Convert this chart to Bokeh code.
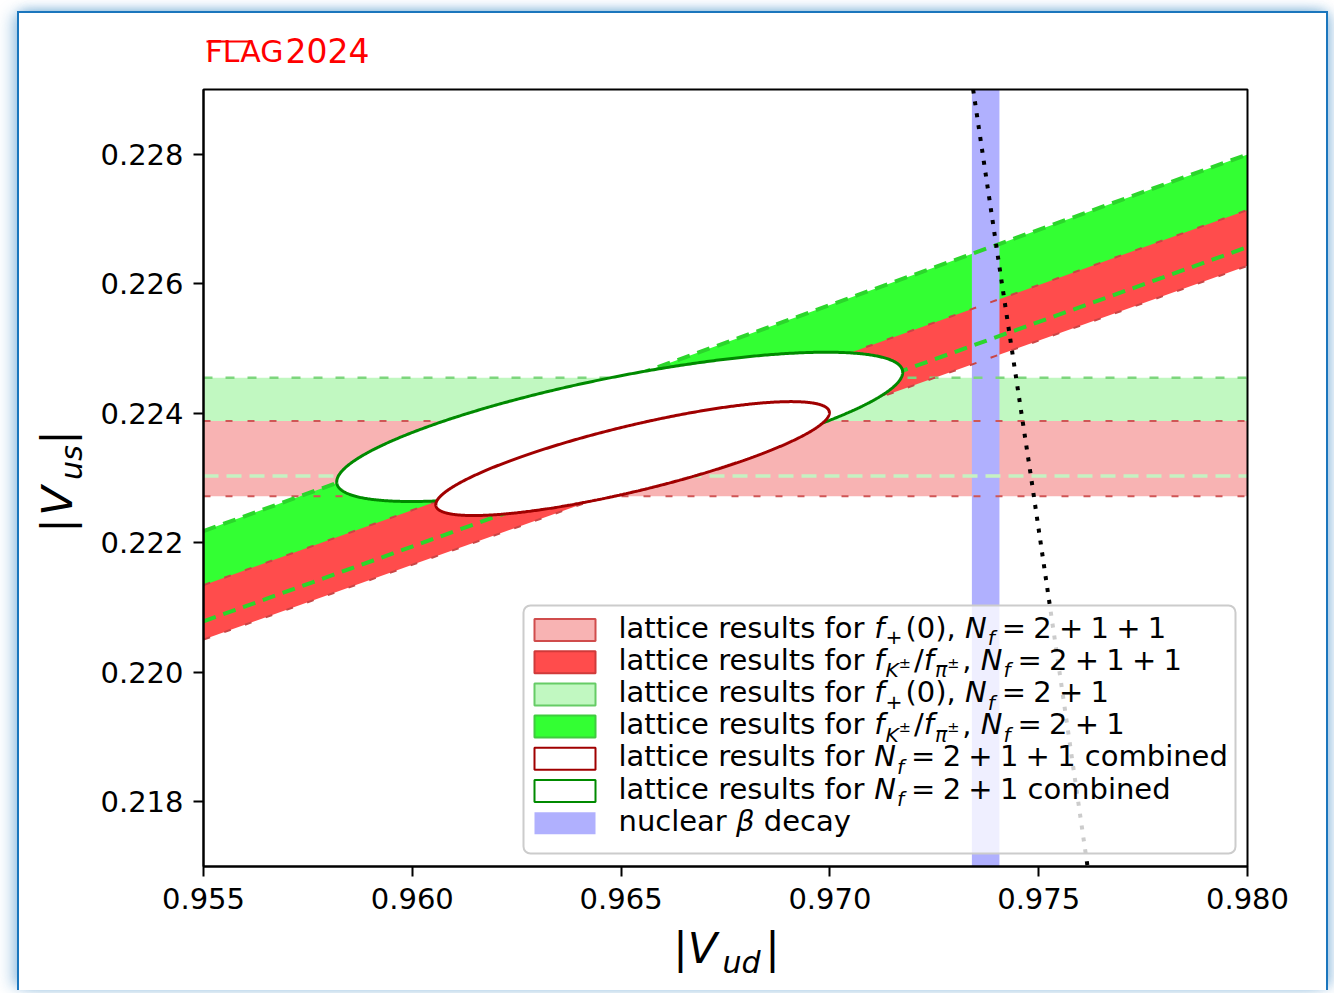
import numpy as np
from bokeh.plotting import figure
from bokeh.models import (FixedTicker, NumeralTickFormatter, Label, BoxAnnotation, Range1d)
from bokeh.embed import file_html
from bokeh.resources import INLINE

# ---------------- data ----------------
vud_range = [0.955, 0.980]
vus_range = [0.217, 0.229]
vud_ticks = [0.955, 0.960, 0.965, 0.970, 0.975, 0.980]
vus_ticks = [0.218, 0.220, 0.222, 0.224, 0.226, 0.228]

# |Vus| from f+(0): [central value, half width]
vus_f0_n2p1p1 = [0.22330, 0.00058]
vus_f0_n2p1 = [0.22379, 0.00076]
# |Vus|/|Vud| from fK/fpi: [central value, half width]
ratio_fk_n2p1p1 = [0.231335, 0.00044]
ratio_fk_n2p1 = [0.23192, 0.00073]
# |Vud| from nuclear beta decay: [central value, half width]
vud_beta = [0.97373, 0.00033]
# first-row unitarity curve
unit_vus = [0.2290, 0.2260, 0.2230, 0.2200, 0.2170]
unit_vud = [0.97343, 0.97412, 0.97482, 0.97550, 0.97617]
# chi^2 level of the combined contours
delta_chi2 = 2.3

# ---------------- page geometry (pixels) ----------------
CX, CY = 19, 13            # page position of the canvas
W, H = 1311, 979
FL, FR, FT, FB = 203, 1247, 89, 866   # plot box on the page
BASE_FIX = 0.41            # em offset of the alphabetic baseline of a Label

KX = (vud_range[1] - vud_range[0]) / (FR - FL)
KY = (vus_range[1] - vus_range[0]) / (FB - FT)
x_view = Range1d(vud_range[0] - (FL - CX) * KX, vud_range[1] + (CX + W - FR) * KX)
y_view = Range1d(vus_range[0] - (CY + H - FB) * KY, vus_range[1] + (FT - CY) * KY)


def cx(px):
    return px - CX


def cy(py):
    return py - CY


p = figure(width=W, height=H, x_range=x_view, y_range=y_view,
           output_backend="svg", toolbar_location=None, min_border=0)
p.styles = {
    "margin-left": "17px", "margin-top": "11px",
    "border-left": "2px solid #1b76bd", "border-top": "2px solid #1b76bd",
    "border-right": "2px solid #1b76bd",
    "box-shadow": "-8px 0 14px -3px rgba(27,118,189,0.38), 0 -5px 10px -3px rgba(27,118,189,0.25), 7px 0 12px -3px rgba(27,118,189,0.35)",
}
p.background_fill_color = "white"
p.border_fill_color = "white"
p.outline_line_color = None
p.xgrid.visible = False
p.ygrid.visible = False

p.xaxis.ticker = FixedTicker(ticks=vud_ticks)
p.yaxis.ticker = FixedTicker(ticks=vus_ticks)
p.xaxis.fixed_location = vus_range[0]
p.yaxis.fixed_location = vud_range[0]
p.xaxis.bounds = tuple(vud_range)
p.yaxis.bounds = tuple(vus_range)
for ax in (p.xaxis[0], p.yaxis[0]):
    ax.formatter = NumeralTickFormatter(format="0.000")
    ax.major_label_text_font = "DejaVu Sans"
    ax.major_label_text_font_size = "29px"
    ax.major_label_text_color = "black"
    ax.axis_line_width = 2
    ax.axis_line_color = "black"
    ax.major_tick_line_width = 2
    ax.major_tick_line_color = "black"
    ax.major_tick_out = 10
    ax.major_tick_in = 0
    ax.minor_tick_out = 0
    ax.minor_tick_in = 0
p.xaxis.major_label_standoff = 11
p.yaxis.major_label_standoff = 10

xx = list(vud_range)


def hband(band):
    c, h = band
    return [c - h] * 2, [c + h] * 2


def dband(band):
    r, h = band
    return [(r - h) * x for x in xx], [(r + h) * x for x in xx]


col_pink, col_red = "#f8b3b3", "#ff4c4c"
col_lgreen, col_green = "#c1f8c1", "#33ff33"
col_blue = "#b0b0fe"

# fills
lo, hi = hband(vus_f0_n2p1)
p.varea(x=xx, y1=lo, y2=hi, fill_color=col_lgreen)
lo, hi = hband(vus_f0_n2p1p1)
p.varea(x=xx, y1=lo, y2=hi, fill_color=col_pink)
lo, hi = dband(ratio_fk_n2p1)
p.varea(x=xx, y1=lo, y2=hi, fill_color=col_green)
lo, hi = dband(ratio_fk_n2p1p1)
p.varea(x=xx, y1=lo, y2=hi, fill_color=col_red)
p.quad(left=[vud_beta[0] - vud_beta[1]], right=[vud_beta[0] + vud_beta[1]],
       bottom=[vus_range[0]], top=[vus_range[1]],
       fill_color=col_blue, line_alpha=0)

# band edges
lo, hi = hband(vus_f0_n2p1)
p.line(xx, hi, line_color="#7dd67d", line_width=2.5, line_dash="9 13")
p.line(xx, lo, line_color="#c6f2c2", line_width=3.5, line_dash="15 8")
lo, hi = hband(vus_f0_n2p1p1)
for e in (lo, hi):
    p.line(xx, e, line_color="#cf5656", line_width=2, line_dash="7 15")
lo, hi = dband(ratio_fk_n2p1)
for e in (lo, hi):
    p.line(xx, e, line_color="#2bd62b", line_width=4, line_dash="13 8")
lo, hi = dband(ratio_fk_n2p1p1)
for e in (lo, hi):
    p.line(xx, e, line_color="#c94646", line_width=2, line_dash="7 15")

# combined chi^2 contours
k = np.sqrt(delta_chi2)
th = np.linspace(0, 2 * np.pi, 721)
for hb, db, lc in ((vus_f0_n2p1, ratio_fk_n2p1, "#008a00"),
                   (vus_f0_n2p1p1, ratio_fk_n2p1p1, "#a00000")):
    vus_e = hb[0] + k * hb[1] * np.cos(th)
    rat_e = db[0] + k * db[1] * np.sin(th)
    p.patch(vus_e / rat_e, vus_e, fill_color="white", line_color=lc, line_width=3)

# unitarity
p.line(unit_vud, unit_vus, line_color="black", line_width=4, line_dash="4 8")

# plot box (spines)
p.quad(left=[vud_range[0]], right=[vud_range[1]], bottom=[vus_range[0]], top=[vus_range[1]],
       fill_alpha=0, line_color="black", line_width=2)


def add_text(text, x, y, size, style="normal", align="left", color="black", rotated=False):
    """x, y: page pixels of the alphabetic baseline anchor."""
    if rotated:
        lx, ly, ang = cx(x) - BASE_FIX * size, cy(y), np.pi / 2
    else:
        lx, ly, ang = cx(x), cy(y) - BASE_FIX * size, 0.0
    p.add_layout(Label(x=lx, y=ly, x_units="canvas", y_units="canvas", text=text, angle=ang,
                       text_font="DejaVu Sans", text_font_size=f"{size:.1f}px",
                       text_font_style=style, text_color=color,
                       text_align=align, text_baseline="alphabetic"))


# ---------------- legend (drawn by hand for mixed math text) ----------------
p.add_layout(BoxAnnotation(left=cx(521), right=cx(1233), top=cy(603), bottom=cy(851),
                           left_units="canvas", right_units="canvas",
                           top_units="canvas", bottom_units="canvas",
                           fill_color="white", fill_alpha=0.8,
                           line_color="#cccccc", line_alpha=1, line_width=2, border_radius=7))

patch_styles = [(col_pink, "#d04c4c"), (col_red, "#d03a3a"), (col_lgreen, "#66cc66"),
                (col_green, "#3fcc3f"), ("white", "#a00000"), ("white", "#008a00"),
                (col_blue, None)]

SP = "\u2005"
EQ1 = f"={SP}2{SP}+{SP}1{SP}+{SP}1"
EQ2 = f"={SP}2{SP}+{SP}1"
legend_rows = [
    [("lattice results for ", "n"), ("f", "i"), ("+", "sn"), ("(0), ", "n"), ("N", "i"), ("f", "si"),
     (EQ1, "n")],
    [("lattice results for ", "n"), ("f", "i"), ("K", "si"), ("±", "pn"), ("/", "n"), ("f", "i"),
     ("π", "si"), ("±", "pn"), (", ", "n"), ("N", "i"), ("f", "si"), (EQ1, "n")],
    [("lattice results for ", "n"), ("f", "i"), ("+", "sn"), ("(0), ", "n"), ("N", "i"), ("f", "si"),
     (EQ2, "n")],
    [("lattice results for ", "n"), ("f", "i"), ("K", "si"), ("±", "pn"), ("/", "n"), ("f", "i"),
     ("π", "si"), ("±", "pn"), (", ", "n"), ("N", "i"), ("f", "si"), (EQ2, "n")],
    [("lattice results for ", "n"), ("N", "i"), ("f", "si"), (EQ1, "n"), (" combined", "n")],
    [("lattice results for ", "n"), ("N", "i"), ("f", "si"), (EQ2, "n"), (" combined", "n")],
    [("nuclear ", "n"), ("β", "i"), (" decay", "n")],
]

ADV = {' ': .318, SP: .25, 'a': .613, 'b': .635, 'c': .550, 'd': .635, 'e': .615, 'f': .352,
       'i': .278, 'l': .278, 'm': .974, 'n': .634, 'o': .612, 'r': .411, 's': .521, 't': .392,
       'u': .634, 'y': .592, 'K': .656, 'N': .748, 'V': .684, '(': .390, ')': .390, ',': .318,
       '+': .838, '=': .838, '/': .337, '±': .838, 'π': .602, 'β': .638, '0': .636, '1': .636,
       '2': .636, '|': .337}


def adv(s, size):
    return sum(ADV.get(ch, 0.6) for ch in s) * size


FS = 29
# kind: (size factor, font style, baseline shift, gap before, gap after)
KIND = {"n": (1.0, "normal", 0, 0, 0), "i": (1.0, "italic", 0, 0, 0),
        "sn": (0.7, "normal", 6, 1, 3), "si": (0.7, "italic", 7, 1, 7),
        "pn": (0.5, "normal", -3, 0, 3)}

row0, dy_row = 628.5, 32.2
for i, (row, (fc, lc)) in enumerate(zip(legend_rows, patch_styles)):
    yc = row0 + dy_row * i
    p.add_layout(BoxAnnotation(left=cx(532), right=cx(593), top=cy(yc - 12), bottom=cy(yc + 10),
                               left_units="canvas", right_units="canvas",
                               top_units="canvas", bottom_units="canvas",
                               fill_color=fc, fill_alpha=1,
                               line_color=lc if lc else None, line_alpha=1,
                               line_width=2 if lc else 0))
    xpos = 616.0
    base = yc + 8.5
    for j, (txt, kind) in enumerate(row):
        f, style, dy, gb, ga = KIND[kind]
        size = FS * f
        if kind == "si" and j + 1 < len(row) and row[j + 1][1] == "pn":
            ga = 0
        xpos += gb
        lead = len(txt) - len(txt.lstrip(" "))
        add_text(txt.strip(" "), xpos + adv(txt[:lead], size), base + dy, size, style)
        xpos += adv(txt, size) + ga

# ---------------- axis labels ----------------
AF = 43
for t, x, y, s, st in [("|", 678, 963, AF, "normal"), ("V", 700, 963, AF, "italic"),
                       ("ud", 739, 972, AF * 0.7, "italic"), ("|", 770, 963, AF, "normal")]:
    add_text(t, x, y, s, st, align="center")
for t, x, y, s, st in [("|", 72, 523, AF, "normal"), ("V", 72, 498.5, AF, "italic"),
                       ("us", 81, 460, AF * 0.7, "italic"), ("|", 72, 435, AF, "normal")]:
    add_text(t, x, y, s, st, align="center", rotated=True)

# ---------------- FLAG logo ----------------
add_text("FLAG", 203, 61, 30, color="red")
add_text("2024", 283, 61.5, 33, color="red")
p.add_layout(BoxAnnotation(left=cx(204), right=cx(250), top=cy(38), bottom=cy(40),
                           left_units="canvas", right_units="canvas",
                           top_units="canvas", bottom_units="canvas",
                           fill_color="red", fill_alpha=1, line_alpha=0))

open("out.html", "w").write(file_html(p, INLINE))
